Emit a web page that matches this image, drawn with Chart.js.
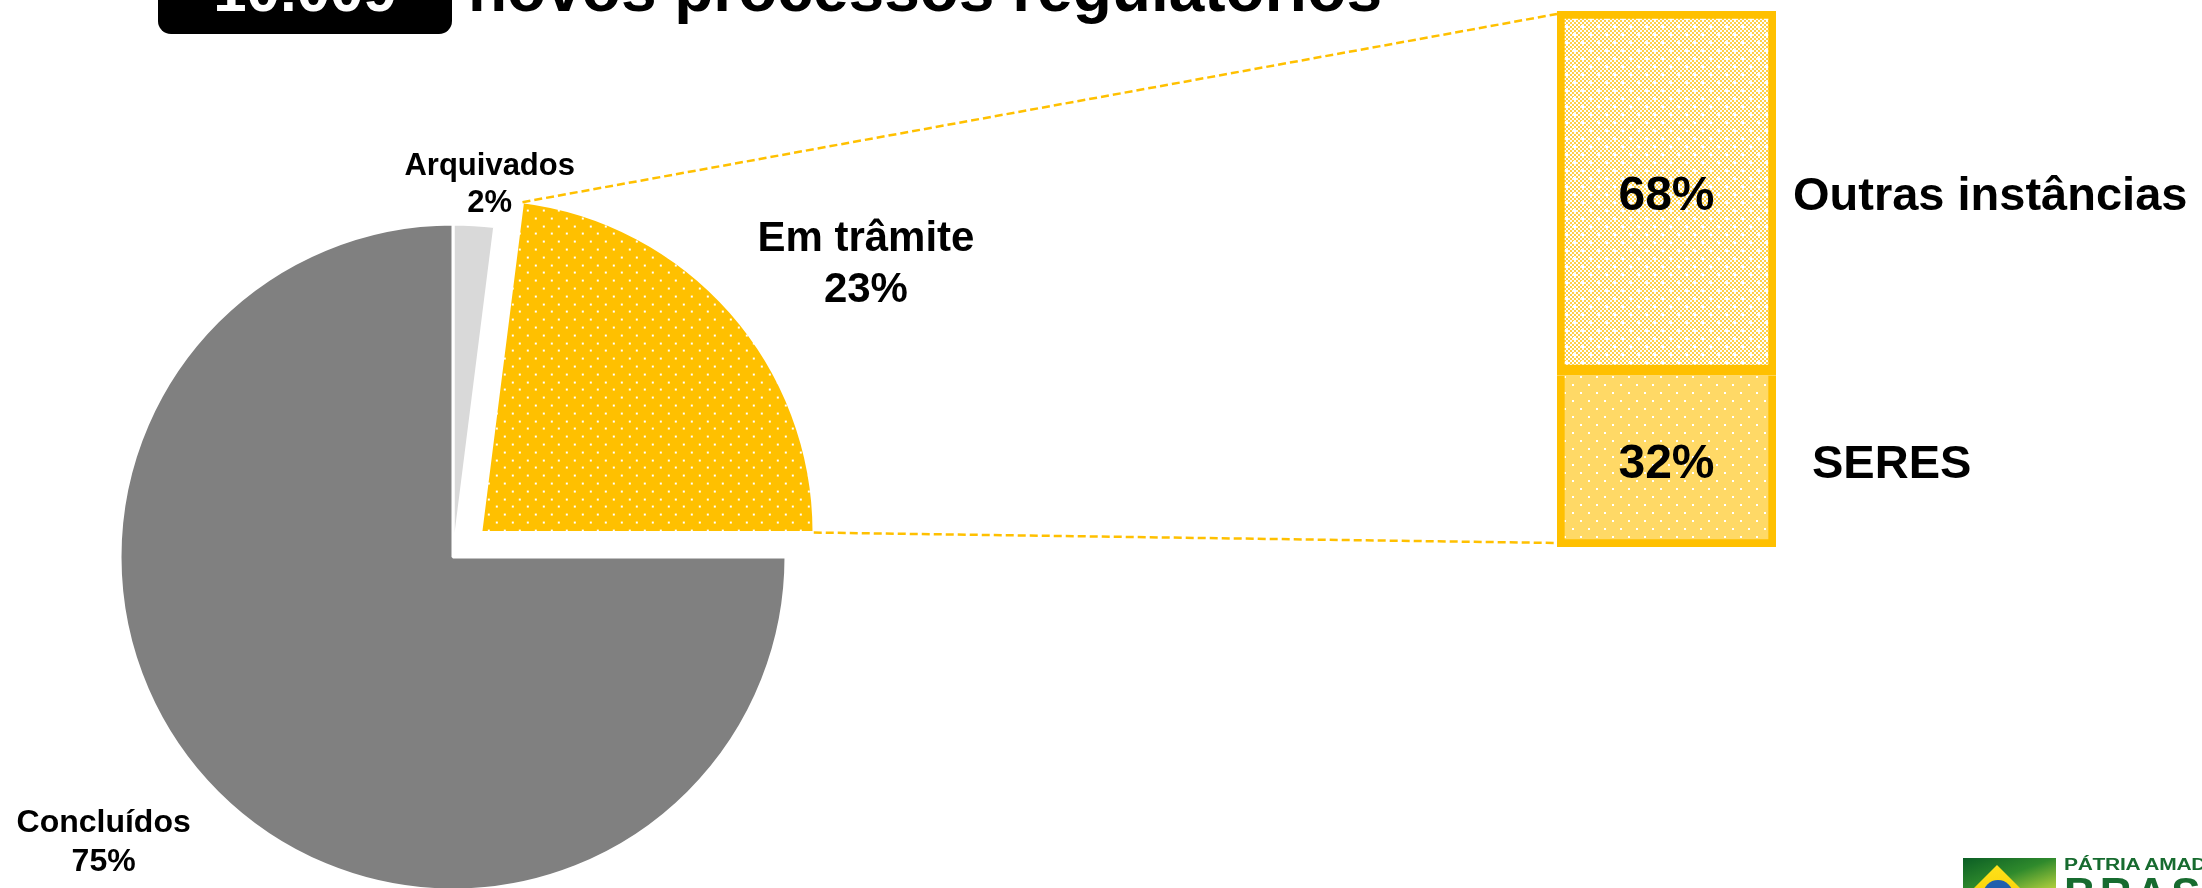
<!DOCTYPE html>
<html>
<head>
<meta charset="utf-8">
<script src="https://cdn.jsdelivr.net/npm/chart.js@4/dist/chart.umd.min.js"></script>
<style>
  html, body { margin:0; padding:0; background:#fff; width:2202px; height:888px; overflow:hidden; }
  #stage { position:relative; width:2202px; height:888px; overflow:hidden; font-family:"Liberation Sans", Arial, sans-serif; }
  canvas { position:absolute; }
  #pie { left:0; top:0; }
  #bar { left:1540px; top:0; }
  #numbox { position:absolute; left:158px; top:-44px; width:294px; height:78px; background:#000; border-radius:13px; }
  #num { position:absolute; left:158px; width:294px; top:-39px; text-align:center; color:#fff; font-weight:bold; font-size:60px; line-height:60px; }
  #title { position:absolute; left:468px; top:-43px; color:#000; font-weight:bold; font-size:64px; line-height:64px; white-space:nowrap; }
  #logo { position:absolute; left:1963px; top:858px; width:260px; height:40px; }
  #flag { position:absolute; left:0; top:0; width:93px; height:40px; overflow:hidden;
          background:linear-gradient(160deg, #0b5e25 0%, #2f8a2c 45%, #9cc43a 80%, #d7df3a 100%); }
  #diamond { position:absolute; left:4px; top:7px; width:60px; height:50px; background:linear-gradient(180deg,#ffe21a,#f6c800);
             clip-path:polygon(50% 0, 100% 60%, 0 60%); }
  #globe { position:absolute; left:20px; top:22px; width:30px; height:30px; border-radius:50%; background:#1f5fae; }
  #logo1 { position:absolute; left:101px; top:-2px; color:#176b2f; font-weight:bold; font-size:21px; line-height:21px; white-space:nowrap; letter-spacing:-0.3px; transform:scaleY(0.8); transform-origin:0 0; }
  #logo2 { position:absolute; left:101px; top:14px; color:#176b2f; font-weight:bold; font-size:44px; line-height:44px; white-space:nowrap; letter-spacing:4px; }
</style>
</head>
<body>
<div id="stage">
  <canvas id="pie" width="2202" height="888"></canvas>
  <canvas id="bar" width="662" height="600"></canvas>
  <div id="numbox"></div>
  <div id="num"></div>
  <div id="title"></div>
  <div id="logo">
    <div id="flag"><div id="diamond"></div><div id="globe"></div></div>
    <div id="logo1">PÁTRIA AMADA</div>
    <div id="logo2">BRASIL</div>
  </div>
</div>
<script>
// ---------------- data ----------------
const titleNumber = '10.009';
const titleText = 'novos processos regulatórios';

const pieCategories = ['Arquivados', 'Em trâmite', 'Concluídos'];
const pieShares = [2, 23, 75];

const barCategories = ['SERES', 'Outras instâncias'];
const barShares = [32, 68];

// ---------------- styles ----------------
const YELLOW = '#FFC000';
document.getElementById('num').textContent = titleNumber;
document.getElementById('title').textContent = titleText;

function makePattern(ctx, w, h, bg, draw) {
  const c = document.createElement('canvas');
  c.width = w; c.height = h;
  const x = c.getContext('2d');
  x.fillStyle = bg; x.fillRect(0, 0, w, h);
  draw(x);
  return ctx.createPattern(c, 'repeat');
}

const pieCanvas = document.getElementById('pie');
const barCanvas = document.getElementById('bar');
const pctx = pieCanvas.getContext('2d');
const bctx = barCanvas.getContext('2d');

// yellow slice: white dots, staggered rows
const yellowDots = makePattern(pctx, 78, 78, YELLOW, x => {
  x.fillStyle = '#ffffff';
  for (let r = 0; r < 10; r++) {
    for (let i = 0; i < 5; i++) {
      const px = Math.round(i * 15.6 + (r % 2) * 7.8) % 78;
      const py = Math.round(r * 7.8);
      x.fillRect(px, py, 2, 2);
    }
  }
});
// SERES: light gold with white dots
const seresPattern = makePattern(bctx, 16, 16, '#FFD966', x => {
  x.fillStyle = '#ffffff';
  x.fillRect(0, 0, 2, 2);
  x.fillRect(8, 8, 2, 2);
});
// Outras instâncias: fine checker
const outrasPattern = makePattern(bctx, 16, 16, '#ffffff', x => {
  x.fillStyle = '#FFD04A';
  for (let yy = 0; yy < 16; yy += 2) for (let xx = 0; xx < 16; xx += 2) {
    if (((xx + yy) / 2) % 2 === 0) x.fillRect(xx, yy, 2, 2);
  }
  x.fillStyle = '#ffffff';
  x.fillRect(1, 1, 3, 3);
  x.fillRect(9, 9, 3, 3);
});

const FONT = '"Liberation Sans", Arial, sans-serif';

// ---------------- bar chart ----------------
const barLabelGap = [36, 17];
const barLabelsPlugin = {
  id: 'barLabels',
  afterDatasetsDraw(chart) {
    const ctx = chart.ctx;
    ctx.save();
    chart.data.datasets.forEach((ds, i) => {
      const el = chart.getDatasetMeta(i).data[0];
      const cy = (el.y + el.base) / 2;
      ctx.fillStyle = '#000';
      ctx.textBaseline = 'alphabetic';
      ctx.font = 'bold 48px ' + FONT;
      ctx.textAlign = 'center';
      ctx.fillText(ds.data[0] + '%', el.x, cy + 48 * 0.716 / 2);
      ctx.font = 'bold 47px ' + FONT;
      ctx.textAlign = 'left';
      ctx.fillText(ds.label, el.x + el.width / 2 + barLabelGap[i], cy + 47 * 0.716 / 2);
    });
    ctx.restore();
  }
};

const barChart = new Chart(barCanvas, {
  type: 'bar',
  data: {
    labels: [''],
    datasets: [
      { label: barCategories[0], data: [barShares[0]], backgroundColor: seresPattern, borderColor: YELLOW,
        borderWidth: { top: 0, left: 8, right: 8, bottom: 8 }, borderSkipped: false,
        barPercentage: 1, categoryPercentage: 1 },
      { label: barCategories[1], data: [barShares[1]], backgroundColor: outrasPattern, borderColor: YELLOW,
        borderWidth: { top: 8, left: 8, right: 8, bottom: 11 }, borderSkipped: false,
        barPercentage: 1, categoryPercentage: 1 }
    ]
  },
  options: {
    responsive: false, animation: false, events: [],
    layout: { padding: { left: 17, right: 426, top: 11, bottom: 53 } },
    scales: {
      x: { display: false, stacked: true },
      y: { display: false, stacked: true, min: 0, max: 100 }
    },
    plugins: { legend: { display: false }, tooltip: { enabled: false } }
  },
  plugins: [barLabelsPlugin]
});

// ---------------- pie chart ----------------
const pieLabelStyle = [
  { size: 31, k: 1.13, da: 2 },
  { size: 42, k: 1.525, da: 5.8 },
  { size: 32, k: 1.35, da: 6 }
];

const pieExtras = {
  id: 'pieExtras',
  afterDraw(chart) {
    const ctx = chart.ctx;
    const meta = chart.getDatasetMeta(0);
    ctx.save();
    // labels
    meta.data.forEach((arc, i) => {
      const st = pieLabelStyle[i];
      const mid = (arc.startAngle + arc.endAngle) / 2 + st.da * Math.PI / 180;
      const R = arc.outerRadius * st.k;
      const ax = arc.x + Math.cos(mid) * R;
      const ay = arc.y + Math.sin(mid) * R;
      const lh = st.size * 1.2;
      const cap = st.size * 0.716 / 2;
      ctx.fillStyle = '#000';
      ctx.font = 'bold ' + st.size + 'px ' + FONT;
      ctx.textAlign = 'center';
      ctx.textBaseline = 'alphabetic';
      ctx.fillText(chart.data.labels[i], ax, ay - lh / 2 + cap);
      ctx.fillText(chart.data.datasets[0].data[i] + '%', ax, ay + lh / 2 + cap);
    });
    // connector lines from "Em trâmite" slice to the bar
    const arc = meta.data[1];
    const off = (arc.options.offset || 0) / 4;
    const mid = (arc.startAngle + arc.endAngle) / 2;
    const cx = arc.x + Math.cos(mid) * off;
    const cy = arc.y + Math.sin(mid) * off;
    const R = arc.outerRadius;
    const p1 = [cx + Math.cos(arc.startAngle) * R, cy + Math.sin(arc.startAngle) * R];
    const p2 = [cx + Math.cos(arc.endAngle) * R, cy + Math.sin(arc.endAngle) * R];
    const bl = barCanvas.offsetLeft, bt = barCanvas.offsetTop;
    const topEl = barChart.getDatasetMeta(1).data[0];
    const botEl = barChart.getDatasetMeta(0).data[0];
    const q1 = [bl + topEl.x - topEl.width / 2, bt + topEl.y + 3];
    const q2 = [bl + botEl.x - botEl.width / 2, bt + botEl.base - 4];
    ctx.strokeStyle = YELLOW;
    ctx.lineWidth = 2.5;
    ctx.setLineDash([8, 4]);
    ctx.beginPath();
    ctx.moveTo(p1[0], p1[1]); ctx.lineTo(q1[0], q1[1]);
    ctx.moveTo(p2[0], p2[1]); ctx.lineTo(q2[0], q2[1]);
    ctx.stroke();
    ctx.restore();
  }
};

const pieChart = new Chart(pieCanvas, {
  type: 'pie',
  data: {
    labels: pieCategories,
    datasets: [{
      data: pieShares,
      backgroundColor: ['#D9D9D9', yellowDots, '#808080'],
      borderColor: '#ffffff',
      borderWidth: 3,
      offset: [0, 148, 0]
    }]
  },
  options: {
    responsive: false, animation: false, events: [],
    radius: 333,
    layout: { padding: { left: 0, right: 1296, top: 226, bottom: 0 } },
    plugins: { legend: { display: false }, tooltip: { enabled: false } }
  },
  plugins: [pieExtras]
});
</script>
</body>
</html>
